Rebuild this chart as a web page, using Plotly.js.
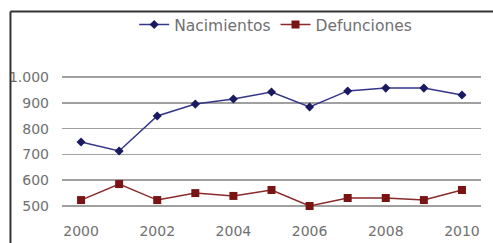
<!DOCTYPE html>
<html><head><meta charset="utf-8">
<script src="https://cdn.plot.ly/plotly-3.0.1.min.js"></script>
<style>body{margin:0;background:#fff}#c{width:493px;height:243px}</style>
</head><body><div id="c"></div>
<script>
const years = [2000,2001,2002,2003,2004,2005,2006,2007,2008,2009,2010];
const nacimientos = [748,713,849,895,915,942,884,946,957,957,930];
const defunciones = [523,585,523,550,539,562,500,531,531,523,562];
const xTicks = [2000,2002,2004,2006,2008,2010];

const traces = [
  {x:years, y:nacimientos, name:'Nacimientos', type:'scatter', mode:'lines+markers',
   line:{color:'#35358a', width:1.5}, marker:{symbol:'diamond', size:7, color:'#1a1a60'}},
  {x:years, y:defunciones, name:'Defunciones', type:'scatter', mode:'lines+markers',
   line:{color:'#8a2a2a', width:1.5}, marker:{symbol:'square', size:8, color:'#7a1414'}}
];
const layout = {
  width:493, height:243,
  margin:{l:62, r:12, t:65, b:25, autoexpand:false},
  paper_bgcolor:'#fff', plot_bgcolor:'#fff',
  separators:',.',
  font:{family:'DejaVu Sans, sans-serif', color:'#707070', size:14},
  showlegend:true,
  legend:{orientation:'h', x:0.51, xanchor:'center', y:1.262, yanchor:'middle',
          font:{size:15.5, color:'#707070'}, bgcolor:'rgba(0,0,0,0)'},
  xaxis:{range:[1999.5,2010.5], tickmode:'array', tickvals:xTicks, ticktext:xTicks.map(String),
         showgrid:false, zeroline:false, showline:false, ticks:'', ticklabelstandoff:3, fixedrange:true},
  yaxis:{range:[453.5,1046.5], dtick:100, tick0:0, separatethousands:true,
         showgrid:true, gridcolor:'#a0a0a0', gridwidth:1.5, zeroline:false, showline:false,
         ticks:'', ticklabelstandoff:12},
  shapes:[
    {type:'line', xref:'paper', yref:'paper', x0:-0.123, x1:1.05, y0:1.35, y1:1.35, line:{color:'#333', width:2}},
    {type:'line', xref:'paper', yref:'paper', x0:-0.123, x1:-0.123, y0:1.35, y1:-0.3, line:{color:'#333', width:2}}
  ]
};
Plotly.newPlot('c', traces, layout, {displayModeBar:false, staticPlot:true});
</script></body></html>
